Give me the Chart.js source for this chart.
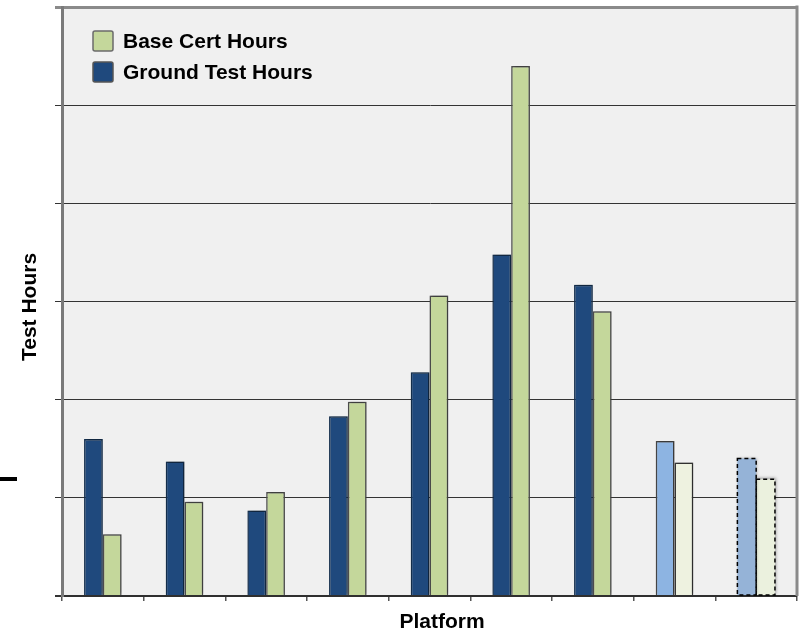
<!DOCTYPE html>
<html>
<head>
<meta charset="utf-8">
<script src="https://cdn.jsdelivr.net/npm/chart.js@4/dist/chart.umd.min.js"></script>
<style>
  html, body { margin: 0; padding: 0; background: #ffffff; }
  #wrap { width: 800px; height: 632px; position: relative; }
</style>
</head>
<body>
<div id="wrap"><canvas id="chart" width="800" height="632"></canvas></div>
<script>
// Platforms along the x axis (names are not printed on the axis)
const platforms = ['1', '2', '3', '4', '5', '6', '7', '8', '9'];

// Hours per platform, in axis units (gridline steps)
const groundTestHours = [1.60, 1.37, 0.87, 1.83, 2.28, 3.48, 3.17, 1.58, 1.40];
const baseCertHours   = [0.63, 0.96, 1.06, 1.98, 3.06, 5.40, 2.90, 1.36, 1.19];

const yTickValues = [0, 1, 2, 3, 4, 5, 6];

// Fill colours: the last two platforms are shown lighter (projected / estimated)
const groundColors = ['#1f497d', '#1f497d', '#1f497d', '#1f497d', '#1f497d', '#1f497d', '#1f497d', '#8db4e2', '#95b3d7'];
const baseColors   = ['#c4d79b', '#c4d79b', '#c4d79b', '#c4d79b', '#c4d79b', '#c4d79b', '#c4d79b', '#eef2e0', '#ebf1de'];
const groundBorders = ['#15304f', '#15304f', '#15304f', '#15304f', '#15304f', '#15304f', '#15304f', '#4a4a4a', '#000000'];
const baseBorders   = ['#4f4f4f', '#4f4f4f', '#4f4f4f', '#4f4f4f', '#4f4f4f', '#4f4f4f', '#4f4f4f', '#3a3a3a', '#000000'];
// The estimated platform gets a dashed outline instead of a solid one
const dashedIndex = 8;

const FONT = '"Liberation Sans", Arial, sans-serif';

const plotBackground = {
  id: 'plotBackground',
  beforeDraw(chart) {
    const { ctx, chartArea: a } = chart;
    ctx.save();
    ctx.fillStyle = '#f0f0f0';
    ctx.fillRect(a.left, a.top, a.right - a.left, a.bottom - a.top);
    ctx.restore();
  }
};

const barShadow = {
  id: 'barShadow',
  beforeDatasetsDraw(chart) {
    const ctx = chart.ctx;
    ctx.save();
    ctx.shadowColor = 'rgba(0,0,0,0.35)';
    ctx.shadowBlur = 3;
    ctx.shadowOffsetX = 1;
    ctx.shadowOffsetY = -1;
  },
  afterDatasetsDraw(chart) {
    const ctx = chart.ctx;
    ctx.restore();
    // dashed outlines for the estimated platform
    ctx.save();
    ctx.strokeStyle = '#000000';
    ctx.lineWidth = 1.5;
    ctx.setLineDash([4, 3]);
    chart.data.datasets.forEach((ds, i) => {
      const bar = chart.getDatasetMeta(i).data[dashedIndex];
      if (!bar) return;
      const p = bar.getProps(['x', 'y', 'base', 'width'], true);
      ctx.strokeRect(p.x - p.width / 2, p.y, p.width, p.base - p.y);
    });
    ctx.restore();
  }
};

const frameAndText = {
  id: 'frameAndText',
  afterDraw(chart) {
    const { ctx, chartArea: a } = chart;
    ctx.save();
    // right edge of the plot frame
    ctx.strokeStyle = '#8a8a8a';
    ctx.lineWidth = 3;
    ctx.beginPath();
    ctx.moveTo(a.right, a.top - 1.5);
    ctx.lineTo(a.right, a.bottom);
    ctx.stroke();

    // legend inside the plot, top-left
    const items = [
      { label: chart.data.datasets[1].label, fill: baseColors[0], stroke: '#6b6b6b' },
      { label: chart.data.datasets[0].label, fill: groundColors[0], stroke: '#555555' }
    ];
    ctx.font = 'bold 21px ' + FONT;
    ctx.textBaseline = 'alphabetic';
    ctx.textAlign = 'left';
    items.forEach((it, k) => {
      const y = 31 + k * 31;
      ctx.fillStyle = it.fill;
      ctx.strokeStyle = it.stroke;
      ctx.lineWidth = 1.5;
      ctx.beginPath();
      ctx.roundRect(93, y, 20, 20, 2);
      ctx.fill();
      ctx.stroke();
      ctx.fillStyle = '#000000';
      ctx.fillText(it.label, 123, y + 17);
    });

    // axis titles
    ctx.font = 'bold 21px ' + FONT;
    ctx.fillStyle = '#000000';
    ctx.textAlign = 'center';
    ctx.textBaseline = 'middle';
    ctx.fillText('Platform', 442, 622);
    ctx.save();
    ctx.translate(30, 307);
    ctx.rotate(-Math.PI / 2);
    ctx.fillText('Test Hours', 0, 0);
    ctx.restore();

    // short black rule at the left margin
    ctx.fillStyle = '#000000';
    ctx.fillRect(0, 477, 17, 4);
    ctx.restore();
  }
};

new Chart(document.getElementById('chart'), {
  type: 'bar',
  data: {
    labels: platforms,
    datasets: [
      {
        label: 'Ground Test Hours',
        data: groundTestHours,
        backgroundColor: groundColors,
        borderColor: groundBorders,
        borderWidth: groundTestHours.map((_, i) => (i === dashedIndex ? 0 : 1.5)),
        categoryPercentage: 0.46,
        barPercentage: 1.0
      },
      {
        label: 'Base Cert Hours',
        data: baseCertHours,
        backgroundColor: baseColors,
        borderColor: baseBorders,
        borderWidth: baseCertHours.map((_, i) => (i === dashedIndex ? 0 : 1.5)),
        categoryPercentage: 0.46,
        barPercentage: 1.0
      }
    ]
  },
  options: {
    responsive: false,
    animation: false,
    devicePixelRatio: 1,
    layout: { padding: { left: 0, top: 7, right: 3, bottom: 0 } },
    plugins: {
      legend: { display: false },
      tooltip: { enabled: false },
      title: { display: false }
    },
    scales: {
      x: {
        type: 'category',
        offset: true,
        afterFit(scale) { scale.height = 36; },
        grid: {
          offset: true,
          drawOnChartArea: false,
          drawTicks: true,
          tickLength: 5,
          color: '#555555',
          lineWidth: 1.5
        },
        border: { display: true, color: '#2f2f2f', width: 2 },
        ticks: { display: false }
      },
      y: {
        min: 0,
        max: 6,
        afterFit(scale) { scale.width = 62; },
        afterBuildTicks(scale) { scale.ticks = yTickValues.map(v => ({ value: v })); },
        grid: {
          drawTicks: true,
          tickLength: 7,
          color: ctx => (ctx.tick && ctx.tick.value === 6 ? '#8a8a8a' : '#333333'),
          lineWidth: ctx => (ctx.tick && ctx.tick.value === 6 ? 3 : (ctx.tick && ctx.tick.value === 0 ? 2 : 1))
        },
        border: { display: true, color: '#7a7a7a', width: 3 },
        ticks: { display: false }
      }
    }
  },
  plugins: [plotBackground, barShadow, frameAndText]
});
</script>
</body>
</html>
